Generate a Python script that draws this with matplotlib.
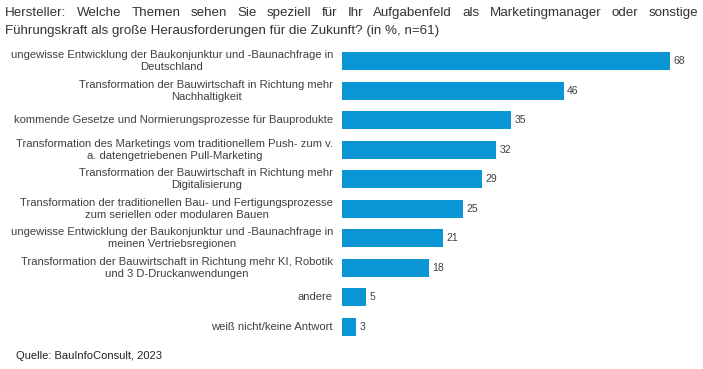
import matplotlib
matplotlib.use("Agg")
import matplotlib.pyplot as plt

categories = [
    "ungewisse Entwicklung der Baukonjunktur und -Baunachfrage in\nDeutschland",
    "Transformation der Bauwirtschaft in Richtung mehr\nNachhaltigkeit",
    "kommende Gesetze und Normierungsprozesse für Bauprodukte",
    "Transformation des Marketings vom traditionellem Push- zum v.\na. datengetriebenen Pull-Marketing",
    "Transformation der Bauwirtschaft in Richtung mehr\nDigitalisierung",
    "Transformation der traditionellen Bau- und Fertigungsprozesse\nzum seriellen oder modularen Bauen",
    "ungewisse Entwicklung der Baukonjunktur und -Baunachfrage in\nmeinen Vertriebsregionen",
    "Transformation der Bauwirtschaft in Richtung mehr KI, Robotik\nund 3 D-Druckanwendungen",
    "andere",
    "weiß nicht/keine Antwort",
]
values = [68, 46, 35, 32, 29, 25, 21, 18, 5, 3]

title_line1 = "Hersteller: Welche Themen sehen Sie speziell für Ihr Aufgabenfeld als Marketingmanager oder sonstige"
title_line2 = "Führungskraft als große Herausforderungen für die Zukunft? (in %, n=61)"
source = "Quelle: BauInfoConsult, 2023"

plt.rcParams['font.family'] = ['Liberation Sans', 'DejaVu Sans']
W, H = 703, 369
fig = plt.figure(figsize=(W / 100, H / 100), dpi=100)
fig.patch.set_facecolor("white")

ax_left, ax_right = 342 / W, 690 / W
ax_top, ax_bottom = 1 - 46.2 / H, 1 - 341.8 / H
ax = fig.add_axes([ax_left, ax_bottom, ax_right - ax_left, ax_top - ax_bottom])
n = len(values)
ypos = list(range(n))
bar_color = "#0A96D4"
ax.barh(ypos, values, height=0.61, color=bar_color)
xmax = 348 / 4.82
ax.set_xlim(0, xmax)
ax.set_ylim(n - 0.5, -0.5)
for s in ax.spines.values():
    s.set_visible(False)
ax.set_xticks([])
ax.set_yticks([])

txt_color = "#404040"
for y, v in zip(ypos, values):
    ax.annotate(str(v), (v, y), xytext=(2.5, 0), textcoords="offset points",
                va="center", ha="left", fontsize=7.5, color=txt_color)

for y, lab in zip(ypos, categories):
    ax.annotate(lab, (0, y), xytext=(-9 * 0.72, 0), textcoords="offset points",
                va="center", ha="right", multialignment="center",
                fontsize=8.1, color=txt_color, linespacing=1.25)

# Title, first line justified
renderer = fig.canvas.get_renderer()
title_size = 9.6
title_color = "#333333"
left_px, right_px = 5, 698
y1 = 1 - 13 / H
y2 = 1 - 31 / H
words = title_line1.split(" ")
texts = [fig.text(0, y1, w, fontsize=title_size, color=title_color, va="center", ha="left") for w in words]
widths = [t.get_window_extent(renderer).width for t in texts]
gap = (right_px - left_px - sum(widths)) / (len(words) - 1)
x = left_px
for t, w in zip(texts, widths):
    t.set_x(x / W)
    x += w + gap
fig.text(left_px / W, y2, title_line2, fontsize=title_size, color=title_color, va="center", ha="left")

fig.text(16 / W, 1 - 356 / H, source, fontsize=8, color="#222222", va="center", ha="left")

fig.savefig("out.png", dpi=100, facecolor="white")
